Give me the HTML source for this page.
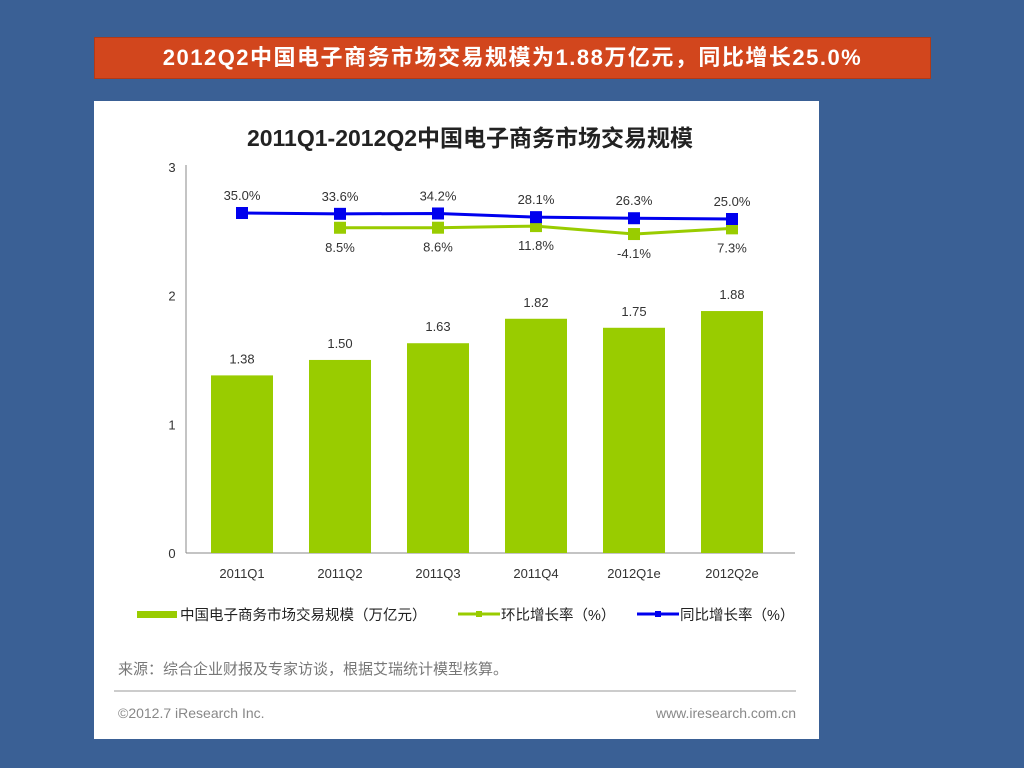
<!DOCTYPE html>
<html><head><meta charset="utf-8"><style>
body{margin:0;width:1024px;height:768px;background:#3a6095;position:relative;overflow:hidden;font-family:"Liberation Sans","Noto Sans CJK SC",sans-serif}
#title{position:absolute;left:94px;top:37px;width:835px;height:40px;background:#d2461d;border:1px solid #b03a18;color:#fff;font-weight:bold;font-size:22px;letter-spacing:1.5px;line-height:40px;text-align:center}
#panel{position:absolute;left:94px;top:101px;width:725px;height:638px;background:#fff}
</style></head><body>
<div id="title">2012Q2中国电子商务市场交易规模为1.88万亿元，同比增长25.0%</div>
<div id="panel"></div>
<svg id="chart" width="1024" height="768" style="position:absolute;left:0;top:0" font-family="Liberation Sans, Noto Sans CJK SC, sans-serif"></svg>
<script>
const categories=["2011Q1","2011Q2","2011Q3","2011Q4","2012Q1e","2012Q2e"];
const scale=[1.38,1.50,1.63,1.82,1.75,1.88];
const qoq=[null,8.5,8.6,11.8,-4.1,7.3];
const yoy=[35.0,33.6,34.2,28.1,26.3,25.0];
const yTicks=[0,1,2,3];
const NS="http://www.w3.org/2000/svg";
const svg=document.getElementById('chart');
function mk(t,a,txt){const e=document.createElementNS(NS,t);for(const k in a)e.setAttribute(k,a[k]);if(txt!=null)e.textContent=txt;svg.appendChild(e);return e;}
const x0=193,step=98;
const xc=i=>x0+step*(i+0.5);
const y=v=>553-v*128.7;
const yB=v=>234-0.6*v;
const yG=v=>232-0.5*v;
let e;
e=mk('text',{x:470,y:146,'text-anchor':'middle','font-size':23,'font-weight':'bold',fill:'#222'},'2011Q1-2012Q2中国电子商务市场交易规模');


e=mk('line',{x1:186,y1:165,x2:186,y2:553,stroke:'#888'});


e=mk('line',{x1:186,y1:553,x2:795,y2:553,stroke:'#888'});


yTicks.forEach(t=>{e=mk('text',{x:172,y:y(t)+5,'text-anchor':'middle','font-size':13,fill:'#333'},t);

});
categories.forEach((c,i)=>{
e=mk('rect',{x:xc(i)-31,y:y(scale[i]),width:62,height:553-y(scale[i]),fill:'#99cc00'});


e=mk('text',{x:xc(i),y:y(scale[i])-12,'text-anchor':'middle','font-size':13,fill:'#333'},scale[i].toFixed(2));


e=mk('text',{x:xc(i),y:578,'text-anchor':'middle','font-size':13,fill:'#333'},c);


});
function series(vals,fy,col,name,below){
let pts=[];vals.forEach((v,i)=>{if(v!=null)pts.push([xc(i),fy(v),v]);});
e=mk('polyline',{points:pts.map(p=>p[0]+','+p[1]).join(' '),fill:'none',stroke:col,'stroke-width':3});


pts.forEach(p=>{
e=mk('rect',{x:p[0]-6,y:p[1]-6,width:12,height:12,fill:col});


e=mk('text',{x:p[0],y:below?p[1]+24:p[1]-13,'text-anchor':'middle','font-size':13,fill:'#333'},p[2].toFixed(1)+'%');


});}
series(qoq,yG,'#99cc00','qoq',true);
series(yoy,yB,'#0000ee','yoy',false);
e=mk('rect',{x:137,y:611,width:40,height:7,fill:'#99cc00'});


e=mk('text',{x:180,y:620,'font-size':14.5,fill:'#222'},'中国电子商务市场交易规模（万亿元）');


e=mk('line',{x1:458,y1:614,x2:500,y2:614,stroke:'#99cc00','stroke-width':3});


mk('rect',{x:476,y:611,width:6,height:6,fill:'#99cc00'});
e=mk('text',{x:501,y:620,'font-size':14.5,fill:'#222'},'环比增长率（%）');


e=mk('line',{x1:637,y1:614,x2:679,y2:614,stroke:'#0000ee','stroke-width':3});


mk('rect',{x:655,y:611,width:6,height:6,fill:'#0000ee'});
e=mk('text',{x:680,y:620,'font-size':14.5,fill:'#222'},'同比增长率（%）');


e=mk('text',{x:118,y:674,'font-size':15,fill:'#777'},'来源：综合企业财报及专家访谈，根据艾瑞统计模型核算。');


mk('line',{x1:114,y1:691,x2:796,y2:691,stroke:'#999'});
e=mk('text',{x:118,y:718,'font-size':14,fill:'#888'},'©2012.7 iResearch Inc.');


e=mk('text',{x:796,y:718,'text-anchor':'end','font-size':14,fill:'#888'},'www.iresearch.com.cn');


</script>
</body></html>
